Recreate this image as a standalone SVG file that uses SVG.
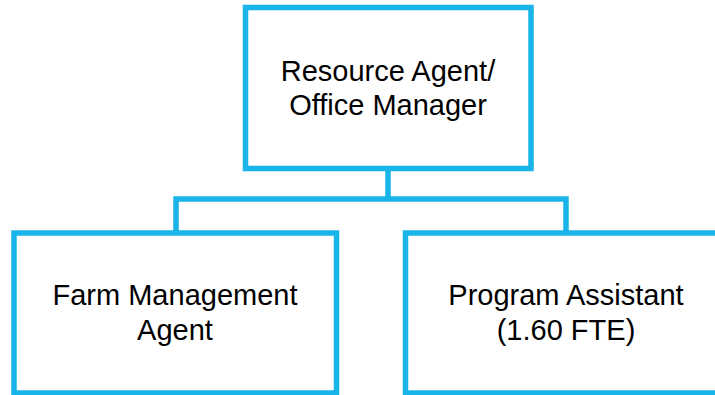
<svg xmlns="http://www.w3.org/2000/svg" width="715" height="395" viewBox="0 0 715 395">
<style>
.box{fill:#fff;stroke:#19B4EA;stroke-width:5.5}
.ln{fill:none;stroke:#19B4EA;stroke-width:5.5}
text{font-family:"Liberation Sans",Arial,sans-serif;font-size:29px;fill:#000;text-anchor:middle}
</style>
<rect width="715" height="395" fill="#fff"/>
<g id="connectors">
<path class="ln" d="M388,168 V199 M176,233 V199 H566 V233"/>
</g>
<g id="n1">
<rect class="box" x="245.5" y="7.5" width="285.5" height="161"/>
<text x="388" y="81">Resource Agent/</text>
<text x="388" y="115">Office Manager</text>
</g>
<g id="n2">
<rect class="box" x="14" y="233" width="322.5" height="160"/>
<text x="175" y="305">Farm Management</text>
<text x="175" y="340">Agent</text>
</g>
<g id="n3">
<rect class="box" x="405.5" y="233" width="320" height="160"/>
<text x="566" y="305">Program Assistant</text>
<text x="566" y="340">(1.60 FTE)</text>
</g>
</svg>
